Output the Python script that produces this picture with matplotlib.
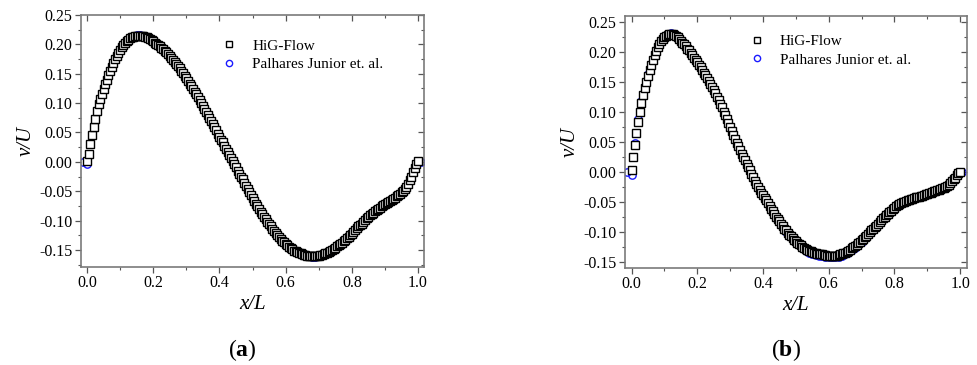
import numpy as np
import matplotlib
matplotlib.use("Agg")
from matplotlib import pyplot as plt
from matplotlib.ticker import MultipleLocator, FormatStrFormatter

plt.rcParams['font.family'] = 'Liberation Serif'
plt.rcParams['mathtext.fontset'] = 'custom'
plt.rcParams['mathtext.rm'] = 'Liberation Serif'
plt.rcParams['mathtext.it'] = 'Liberation Serif:italic'
plt.rcParams['mathtext.bf'] = 'Liberation Serif:bold'

# HiG-Flow results, one value every 0.005 in x/L (0 ... 1)
x_hig = np.linspace(0.0, 1.0, 201)

hig_a = [
    0.002, 0.014, 0.030, 0.045, 0.059, 0.073, 0.086, 0.098, 0.107, 0.116,
    0.124, 0.132, 0.140, 0.147, 0.154, 0.161, 0.168, 0.175, 0.181, 0.186,
    0.191, 0.195, 0.199, 0.202, 0.205, 0.208, 0.210, 0.212, 0.213, 0.214,
    0.215, 0.215, 0.215, 0.215, 0.214, 0.213, 0.212, 0.211, 0.209, 0.207,
    0.205, 0.203, 0.201, 0.199, 0.197, 0.194, 0.192, 0.189, 0.187, 0.184,
    0.180, 0.177, 0.174, 0.170, 0.167, 0.163, 0.159, 0.155, 0.151, 0.146,
    0.142, 0.138, 0.133, 0.129, 0.124, 0.119, 0.115, 0.110, 0.105, 0.100,
    0.095, 0.090, 0.085, 0.080, 0.075, 0.069, 0.064, 0.059, 0.054, 0.048,
    0.043, 0.038, 0.033, 0.027, 0.022, 0.017, 0.012, 0.006, 0.001, -0.004,
    -0.009, -0.015, -0.020, -0.025, -0.030, -0.036, -0.041, -0.046, -0.051, -0.056,
    -0.061, -0.066, -0.071, -0.075, -0.080, -0.085, -0.089, -0.094, -0.098, -0.102,
    -0.106, -0.110, -0.114, -0.118, -0.121, -0.125, -0.128, -0.131, -0.134, -0.137,
    -0.140, -0.142, -0.145, -0.147, -0.149, -0.151, -0.152, -0.154, -0.155, -0.156,
    -0.157, -0.158, -0.159, -0.160, -0.160, -0.161, -0.161, -0.161, -0.161, -0.160,
    -0.160, -0.159, -0.158, -0.157, -0.156, -0.155, -0.153, -0.152, -0.150, -0.148,
    -0.146, -0.144, -0.142, -0.140, -0.138, -0.135, -0.133, -0.130, -0.128, -0.125,
    -0.122, -0.119, -0.116, -0.113, -0.110, -0.107, -0.105, -0.102, -0.099, -0.096,
    -0.094, -0.091, -0.089, -0.087, -0.084, -0.082, -0.080, -0.078, -0.076, -0.074,
    -0.072, -0.070, -0.069, -0.067, -0.065, -0.063, -0.061, -0.059, -0.057, -0.055,
    -0.052, -0.049, -0.046, -0.042, -0.037, -0.031, -0.025, -0.017, -0.010, -0.003,
    0.001,
]

hig_b = [
    0.002, 0.024, 0.045, 0.064, 0.083, 0.099, 0.114, 0.128, 0.140, 0.150,
    0.160, 0.169, 0.177, 0.186, 0.194, 0.201, 0.208, 0.213, 0.218, 0.221,
    0.224, 0.226, 0.228, 0.229, 0.229, 0.229, 0.228, 0.226, 0.224, 0.221,
    0.218, 0.215, 0.212, 0.209, 0.205, 0.202, 0.198, 0.194, 0.190, 0.186,
    0.182, 0.178, 0.174, 0.170, 0.165, 0.161, 0.156, 0.151, 0.146, 0.141,
    0.136, 0.131, 0.125, 0.119, 0.113, 0.107, 0.100, 0.094, 0.087, 0.081,
    0.074, 0.068, 0.061, 0.055, 0.048, 0.042, 0.036, 0.030, 0.024, 0.019,
    0.013, 0.008, 0.002, -0.004, -0.009, -0.015, -0.020, -0.025, -0.030, -0.035,
    -0.039, -0.044, -0.048, -0.053, -0.057, -0.062, -0.066, -0.071, -0.075, -0.079,
    -0.083, -0.087, -0.091, -0.095, -0.098, -0.102, -0.105, -0.108, -0.111, -0.114,
    -0.116, -0.119, -0.121, -0.123, -0.125, -0.127, -0.129, -0.131, -0.132, -0.133,
    -0.134, -0.135, -0.136, -0.137, -0.137, -0.138, -0.138, -0.139, -0.139, -0.140,
    -0.140, -0.140, -0.140, -0.140, -0.140, -0.140, -0.139, -0.138, -0.137, -0.136,
    -0.135, -0.134, -0.132, -0.130, -0.128, -0.126, -0.124, -0.122, -0.119, -0.117,
    -0.114, -0.112, -0.109, -0.107, -0.104, -0.101, -0.098, -0.095, -0.092, -0.090,
    -0.087, -0.084, -0.081, -0.078, -0.075, -0.073, -0.070, -0.067, -0.065, -0.062,
    -0.060, -0.058, -0.056, -0.054, -0.053, -0.051, -0.050, -0.049, -0.048, -0.047,
    -0.046, -0.045, -0.044, -0.043, -0.042, -0.042, -0.041, -0.040, -0.039, -0.038,
    -0.037, -0.036, -0.035, -0.034, -0.033, -0.032, -0.031, -0.030, -0.029, -0.028,
    -0.027, -0.026, -0.024, -0.022, -0.019, -0.016, -0.013, -0.010, -0.006, -0.003,
    0.000,
]

# Palhares Junior et. al., every 0.01 in x/L plus the two end points
x_pal_a = np.r_[-0.012, np.linspace(0.0, 0.99, 100), 1.008]
pal_a = [0.000,
    -0.004, 0.032, 0.061, 0.088, 0.109, 0.126, 0.142, 0.156, 0.170, 0.182,
    0.192, 0.200, 0.206, 0.211, 0.214, 0.216, 0.216, 0.215, 0.213, 0.210,
    0.206, 0.202, 0.197, 0.192, 0.187, 0.181, 0.174, 0.167, 0.159, 0.151,
    0.142, 0.133, 0.124, 0.115, 0.105, 0.095, 0.085, 0.075, 0.064, 0.054,
    0.043, 0.033, 0.022, 0.012, 0.001, -0.009, -0.020, -0.030, -0.041, -0.051,
    -0.061, -0.071, -0.080, -0.089, -0.098, -0.107, -0.115, -0.122, -0.129, -0.135,
    -0.141, -0.146, -0.150, -0.153, -0.156, -0.158, -0.160, -0.161, -0.162, -0.162,
    -0.161, -0.159, -0.157, -0.154, -0.151, -0.147, -0.143, -0.138, -0.133, -0.128,
    -0.122, -0.116, -0.110, -0.105, -0.099, -0.094, -0.089, -0.084, -0.080, -0.076,
    -0.072, -0.069, -0.065, -0.061, -0.057, -0.052, -0.046, -0.037, -0.025, -0.011,
    0.000]

x_pal_b = np.r_[-0.014, np.linspace(0.0, 0.99, 100), 1.007]
pal_b = [0.000,
    -0.005, 0.048, 0.087, 0.118, 0.143, 0.163, 0.180, 0.197, 0.211, 0.220,
    0.226, 0.230, 0.231, 0.229, 0.225, 0.219, 0.213, 0.206, 0.199, 0.191,
    0.183, 0.175, 0.166, 0.157, 0.147, 0.137, 0.126, 0.114, 0.101, 0.088,
    0.075, 0.062, 0.049, 0.036, 0.024, 0.013, 0.002, -0.009, -0.020, -0.030,
    -0.040, -0.049, -0.058, -0.067, -0.076, -0.084, -0.092, -0.100, -0.107, -0.113,
    -0.118, -0.123, -0.128, -0.132, -0.135, -0.137, -0.139, -0.140, -0.141, -0.142,
    -0.143, -0.143, -0.143, -0.142, -0.140, -0.138, -0.135, -0.131, -0.127, -0.122,
    -0.117, -0.111, -0.106, -0.100, -0.094, -0.088, -0.082, -0.076, -0.071, -0.066,
    -0.061, -0.057, -0.054, -0.051, -0.048, -0.046, -0.044, -0.043, -0.041, -0.039,
    -0.037, -0.035, -0.033, -0.031, -0.029, -0.027, -0.024, -0.019, -0.013, -0.006,
    0.000]

fig = plt.figure(figsize=(9.77, 3.65), dpi=100)
ax_a = fig.add_axes([0.0829, 0.2685, 0.3511, 0.6905])
ax_b = fig.add_axes([0.6397, 0.2666, 0.3501, 0.6904])

panels = [
    (ax_a, x_hig, hig_a, x_pal_a, pal_a, (-0.018, 1.018), (-0.179, 0.25), (0.41, 0.905), 'a'),
    (ax_b, x_hig, hig_b, x_pal_b, pal_b, (-0.02, 1.021), (-0.16, 0.26), (0.363, 0.925), 'b'),
]

for ax, xh, yh, xp, yp, xl, yl, leg_pos, tag in panels:
    ax.plot(xp, yp, 'o', ms=5.3, mfc='none', mec='#1a1aff', mew=1.0,
            label='Palhares Junior et. al.', zorder=2)
    ax.plot(xh, yh, 's', ms=5.3, mfc='white', mec='black', mew=1.0,
            label='HiG-Flow', zorder=3)
    ax.set_xlim(*xl)
    ax.set_ylim(*yl)
    ax.xaxis.set_major_locator(MultipleLocator(0.2))
    ax.xaxis.set_minor_locator(MultipleLocator(0.1))
    ax.yaxis.set_major_locator(MultipleLocator(0.05))
    ax.yaxis.set_minor_locator(MultipleLocator(0.025))
    ax.xaxis.set_major_formatter(FormatStrFormatter('%.1f'))
    ax.yaxis.set_major_formatter(FormatStrFormatter('%.2f'))
    for s in ax.spines.values():
        s.set_color('#7a7a7a')
        s.set_linewidth(1.2)
    ax.tick_params(which='both', direction='out', top=False, right=False,
                   color='#555555', labelsize=11.5, pad=2)
    ax.tick_params(which='major', length=4, width=0.9)
    ax.tick_params(which='minor', length=2.5, width=0.8)
    sec_x = ax.secondary_xaxis('top')
    sec_y = ax.secondary_yaxis('right')
    for sec in (sec_x, sec_y):
        sec.tick_params(which='both', direction='in', color='#555555')
        sec.tick_params(which='major', length=4, width=0.9)
        sec.tick_params(which='minor', length=2.5, width=0.8)
        for s in sec.spines.values():
            s.set_visible(False)
    sec_x.xaxis.set_major_locator(MultipleLocator(0.2))
    sec_x.xaxis.set_minor_locator(MultipleLocator(0.1))
    sec_x.set_xticklabels([])
    sec_y.yaxis.set_major_locator(MultipleLocator(0.05))
    sec_y.yaxis.set_minor_locator(MultipleLocator(0.025))
    sec_y.set_yticklabels([])

    ax.set_xlabel('x/L', fontsize=15, fontstyle='italic', labelpad=3)
    ax.set_ylabel('v/U', fontsize=15, fontstyle='italic', labelpad=3)

    handles, labels = ax.get_legend_handles_labels()
    ax.legend(handles[::-1], labels[::-1], loc='upper left', bbox_to_anchor=leg_pos,
              frameon=False, fontsize=11, borderpad=0, borderaxespad=0, markerscale=0.85,
              handlelength=1.0, handletextpad=1.0, labelspacing=0.3)

    pos = ax.get_position()
    fig.text((pos.x0 + pos.x1) / 2 - 0.01, 0.041, '(' + r'$\mathbf{' + tag + '}$' + ')',
             fontsize=17, ha='center', va='center')

fig.savefig('out.png', dpi=100)
